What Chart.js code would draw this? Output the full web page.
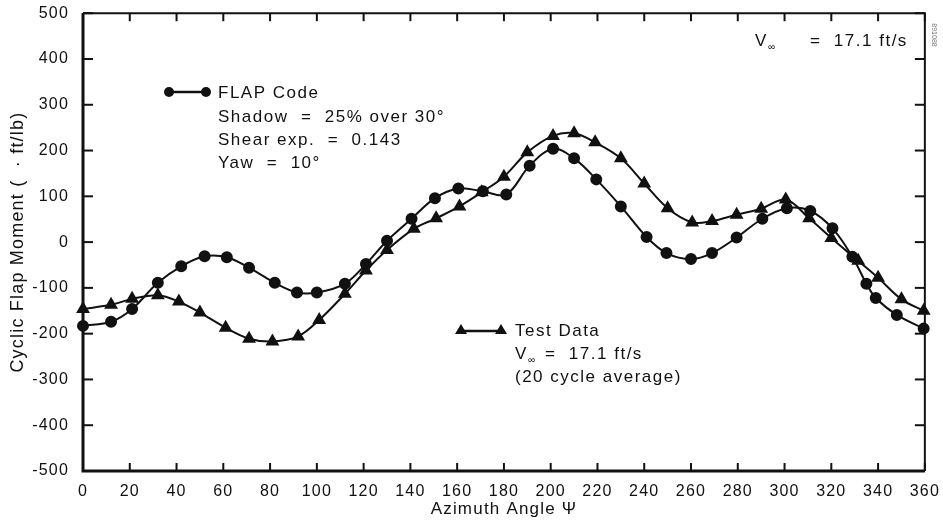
<!DOCTYPE html>
<html lang="en">
<head>
  <meta charset="UTF-8" />
  <title>Cyclic Flap Moment vs Azimuth</title>
  <script src="https://cdn.jsdelivr.net/npm/chart.js"></script>
  <style>
    body { margin: 0; background: #fff; }
    .wrap { width: 943px; height: 523px; position: relative; }
  </style>
</head>
<body>
  <div class="wrap"><canvas id="flapChart"></canvas></div>

  <script>
    // FLAP Code prediction (circles): [azimuth deg, moment]
    const flapAz = [0, 12, 21, 32, 42, 52, 61.5, 71, 82, 91.5, 100, 112, 121, 130, 140.5, 150.5, 160.5, 171, 181, 191, 201, 210, 219.5, 230, 241, 249.5, 260, 269, 279.5, 290.5, 301, 311, 320.5, 329, 335, 339, 348, 359.5];
    const flapVal = [-183, -174, -146, -89, -53, -31, -33, -56, -89, -110, -110, -91, -48, 3, 51, 96, 117, 111, 104, 167, 204, 183, 137, 78, 11, -24, -37, -24, 10, 51, 74, 68, 30, -32, -91, -122, -159, -189];

    // Test data (triangles)
    const testAz = [0, 12, 21, 32, 41, 50, 61, 71, 81, 92, 101, 112, 121, 130, 141.5, 151, 161, 170.5, 180, 190, 201, 210, 219, 230, 240, 250, 260.5, 269, 279.5, 290, 300.5, 310.5, 320, 331.5, 340, 350, 359.5];
    const testVal = [-146, -137, -124, -116, -130, -154, -187, -211, -217, -206, -170, -113, -62, -17, 29, 52, 78, 109, 143, 196, 232, 238, 218, 183, 128, 74, 43, 46, 60, 73, 93, 52, 9, -41, -78, -125, -150];

    const xTicks = [0, 20, 40, 60, 80, 100, 120, 140, 160, 180, 200, 220, 240, 260, 280, 300, 320, 340, 360];
    const yTicks = [-500, -400, -300, -200, -100, 0, 100, 200, 300, 400, 500];

    const FONT = "'Liberation Sans', Arial, sans-serif";

    const toPts = (xs, ys) => xs.map((x, i) => ({ x: x, y: ys[i] }));

    // the old typeset figure has loose letter spacing
    const spacingPlugin = {
      id: "spacing",
      beforeLayout(chart) { chart.ctx.letterSpacing = "1.2px"; },
      beforeDraw(chart) { chart.ctx.letterSpacing = "1.2px"; }
    };

    // frame + inward tick marks on all four sides
    const framePlugin = {
      id: "frame",
      afterDraw(chart) {
        const { ctx, chartArea: a, scales } = chart;
        ctx.save();
        ctx.strokeStyle = "#111";
        ctx.lineWidth = 2;
        xTicks.forEach(v => {
          const px = scales.x.getPixelForValue(v);
          ctx.beginPath(); ctx.moveTo(px, a.bottom); ctx.lineTo(px, a.bottom - 8); ctx.stroke();
          ctx.beginPath(); ctx.moveTo(px, a.top); ctx.lineTo(px, a.top + 8); ctx.stroke();
        });
        yTicks.forEach(v => {
          const py = scales.y.getPixelForValue(v);
          ctx.beginPath(); ctx.moveTo(a.left, py); ctx.lineTo(a.left + 10, py); ctx.stroke();
          ctx.beginPath(); ctx.moveTo(a.right, py); ctx.lineTo(a.right - 10, py); ctx.stroke();
        });
        ctx.lineWidth = 3;
        ctx.beginPath(); ctx.moveTo(a.left, a.top); ctx.lineTo(a.left, a.bottom); ctx.lineTo(a.right, a.bottom); ctx.stroke();
        ctx.lineWidth = 2;
        ctx.beginPath(); ctx.moveTo(a.left, a.top); ctx.lineTo(a.right, a.top); ctx.lineTo(a.right, a.bottom); ctx.stroke();
        ctx.restore();
      }
    };

    function dot(ctx, x, y) {
      ctx.beginPath(); ctx.arc(x, y, 5, 0, Math.PI * 2); ctx.fill();
    }
    function tri(ctx, x, y) {
      ctx.beginPath(); ctx.moveTo(x, y - 6); ctx.lineTo(x + 6, y + 4); ctx.lineTo(x - 6, y + 4); ctx.closePath(); ctx.fill();
    }

    // hand-placed legend blocks and notes
    const notesPlugin = {
      id: "notes",
      afterDraw(chart) {
        const ctx = chart.ctx;
        const big = "17px " + FONT, sub = "10px " + FONT;
        ctx.save();
        ctx.fillStyle = "#111";
        ctx.strokeStyle = "#111";
        ctx.lineWidth = 2.5;
        ctx.font = big;
        ctx.letterSpacing = "1.5px";
        ctx.textBaseline = "middle";
        ctx.textAlign = "left";

        ctx.beginPath(); ctx.moveTo(169, 92); ctx.lineTo(206, 92); ctx.stroke();
        dot(ctx, 169, 92); dot(ctx, 206, 92);
        ctx.fillText("FLAP Code", 218, 93);
        ctx.fillText("Shadow  =  25% over 30°", 218, 117);
        ctx.fillText("Shear exp.  =  0.143", 218, 140);
        ctx.fillText("Yaw  =  10°", 218, 163);

        ctx.beginPath(); ctx.moveTo(460, 331); ctx.lineTo(502, 331); ctx.stroke();
        tri(ctx, 461, 330); tri(ctx, 501, 330);
        ctx.fillText("Test Data", 515, 331);
        ctx.fillText("V", 515, 354);
        ctx.font = sub;
        ctx.fillText("∞", 528, 360);
        ctx.font = big;
        ctx.fillText("=  17.1 ft/s", 545, 354);
        ctx.fillText("(20 cycle average)", 515, 377);

        ctx.fillText("V", 755, 41);
        ctx.font = sub;
        ctx.fillText("∞", 768, 47);
        ctx.font = big;
        ctx.fillText("=  17.1 ft/s", 810, 41);

        ctx.translate(934, 35);
        ctx.rotate(Math.PI / 2);
        ctx.font = "7px " + FONT;
        ctx.letterSpacing = "0px";
        ctx.fillStyle = "#777";
        ctx.textAlign = "center";
        ctx.fillText("891088", 0, 0);
        ctx.restore();
      }
    };

    const ctx = document.getElementById("flapChart").getContext("2d");
    new Chart(ctx, {
      type: "scatter",
      data: {
        datasets: [
          {
            label: "FLAP Code",
            data: toPts(flapAz, flapVal),
            showLine: true,
            borderColor: "#111",
            backgroundColor: "#111",
            borderWidth: 2,
            pointStyle: "circle",
            pointRadius: 5,
            tension: 0.35,
            clip: false
          },
          {
            label: "Test Data",
            data: toPts(testAz, testVal),
            showLine: true,
            borderColor: "#111",
            backgroundColor: "#111",
            borderWidth: 2,
            pointStyle: "triangle",
            pointRadius: 6,
            tension: 0.35,
            clip: false
          }
        ]
      },
      options: {
        responsive: true,
        maintainAspectRatio: false,
        animation: false,
        layout: { padding: { left: 0, top: 12, right: 18, bottom: 0 } },
        plugins: { legend: { display: false }, tooltip: { enabled: false } },
        scales: {
          x: {
            type: "linear",
            min: 0, max: 360,
            afterBuildTicks: s => { s.ticks = xTicks.map(v => ({ value: v })); },
            afterFit: s => { s.height = 52; },
            grid: { display: false },
            border: { display: false },
            ticks: { color: "#111", font: { family: FONT, size: 16 }, padding: 3, maxRotation: 0 },
            title: { display: true, text: "Azimuth Angle Ψ", color: "#111", font: { family: FONT, size: 17 }, padding: { top: 0, bottom: 3 } }
          },
          y: {
            min: -500, max: 500,
            afterBuildTicks: s => { s.ticks = yTicks.map(v => ({ value: v })); },
            afterFit: s => { s.width = 83; },
            grid: { display: false },
            border: { display: false },
            ticks: { color: "#111", font: { family: FONT, size: 16, lineHeight: 0.9 }, padding: 6 },
            title: { display: true, text: "Cyclic Flap Moment (  · ft/lb)", color: "#111", font: { family: FONT, size: 18 }, padding: { top: 7, bottom: 0 } }
          }
        }
      },
      plugins: [spacingPlugin, framePlugin, notesPlugin]
    });
  </script>
</body>
</html>
